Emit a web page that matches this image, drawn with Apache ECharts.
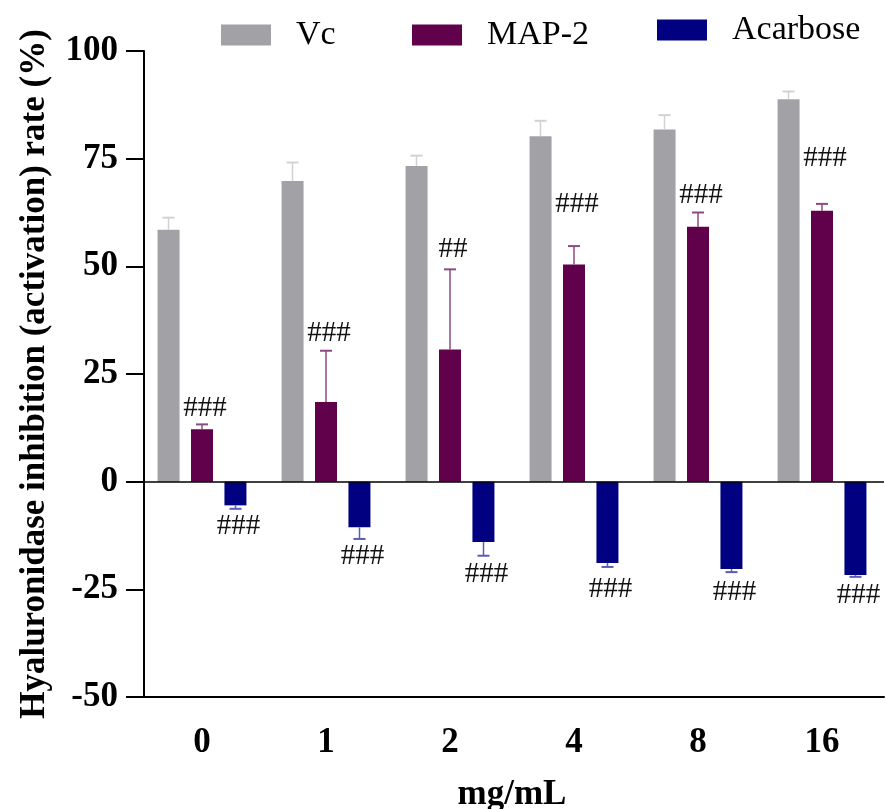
<!DOCTYPE html>
<html>
<head>
<meta charset="utf-8">
<script src="https://cdn.jsdelivr.net/npm/echarts@6/dist/echarts.min.js"></script>
<style>
  html, body { margin: 0; padding: 0; background: #ffffff; }
  #chart { width: 886px; height: 809px; }
</style>
</head>
<body>
<div id="chart"></div>
<script>
// Hyaluronidase inhibition (activation) rate, mean ± SD per dose
const doses = ['0', '1', '2', '4', '8', '16'];
const seriesNames = ['Vc', 'MAP-2', 'Acarbose'];

const vcMean  = [58.5, 69.8, 73.3, 80.2, 81.8, 88.8];
const vcSD    = [2.8, 4.3, 2.4, 3.6, 3.3, 1.8];
const mapMean = [12.2, 18.5, 30.7, 50.4, 59.2, 62.9];
const mapSD   = [1.1, 11.9, 18.6, 4.3, 3.3, 1.6];
const acaMean = [-5.5, -10.6, -14.0, -18.9, -20.3, -21.7];
const acaSD   = [0.8, 2.7, 3.2, 0.9, 0.7, 0.4];

// significance marks and the value level each one sits at
const mapSig      = ['###', '###', '##', '###', '###', '###'];
const mapSigLevel = [17.1, 34.5, 54.0, 64.4, 66.5, 75.1];
const acaSig      = ['###', '###', '###', '###', '###', '###'];
const acaSigLevel = [-10.4, -17.4, -21.6, -25.1, -25.7, -26.5];

const yTicks = [-50, -25, 0, 25, 50, 75, 100];

const SERIF = '"Liberation Serif", "Times New Roman", serif';
const COLORS = ['#A2A1A6', '#61004B', '#000080'];
const ERR_COLORS = ['#D2D2D6', '#8E4A80', '#5A5AB8'];
const BAR_W = 22;
const BAR_STEP = 33.5;   // centre-to-centre distance of bars within a group
const CAP = 6;

const chart = echarts.init(document.getElementById('chart'), null, { renderer: 'canvas' });

function errorBars(means, sds, slot, color) {
  return {
    type: 'custom',
    silent: true,
    z: 4,
    data: means.map((m, i) => [i, m, m >= 0 ? m + sds[i] : m - sds[i]]),
    renderItem: function (params, api) {
      const base = api.coord([api.value(0), api.value(1)]);
      const end = api.coord([api.value(0), api.value(2)]);
      const x = base[0] + slot * BAR_STEP;
      return {
        type: 'group',
        children: [
          { type: 'line', shape: { x1: x, y1: base[1], x2: x, y2: end[1] },
            style: { stroke: color, lineWidth: 1.5 } },
          { type: 'line', shape: { x1: x - CAP, y1: end[1], x2: x + CAP, y2: end[1] },
            style: { stroke: color, lineWidth: 2 } }
        ]
      };
    }
  };
}

function sigMarks(texts, levels, slot) {
  return {
    type: 'custom',
    silent: true,
    z: 5,
    data: levels.map((v, i) => [i, v]),
    renderItem: function (params, api) {
      const p = api.coord([api.value(0), api.value(1)]);
      return {
        type: 'text',
        x: p[0] + slot * BAR_STEP + 3,
        y: p[1],
        style: {
          text: texts[params.dataIndex],
          fill: '#111111',
          font: '29px ' + SERIF,
          align: 'center',
          verticalAlign: 'middle'
        }
      };
    }
  };
}

function legendItem(name, left, top) {
  return {
    data: [name],
    left: left,
    top: top,
    itemWidth: 50,
    itemHeight: 21,
    icon: 'rect',
    selectedMode: false,
    textStyle: { fontFamily: SERIF, fontSize: 34, color: '#000', padding: [0, 0, 0, 20] }
  };
}

const option = {
  animation: false,
  backgroundColor: '#ffffff',
  color: COLORS,
  legend: [
    legendItem('Vc', 216, 13),
    legendItem('MAP-2', 407, 13),
    legendItem('Acarbose', 652, 8)
  ],
  grid: { left: 140, right: 2, top: 51, bottom: 112, containLabel: false, outerBoundsMode: 'none' },
  xAxis: {
    type: 'category',
    data: doses,
    name: 'mg/mL',
    nameLocation: 'middle',
    nameGap: 80,
    nameTextStyle: { fontFamily: SERIF, fontSize: 35, fontWeight: 'bold', color: '#000' },
    axisLine: { onZero: false, lineStyle: { color: '#000', width: 2 } },
    axisTick: { alignWithLabel: true, length: 19, lineStyle: { color: '#000', width: 2 } },
    axisLabel: { fontFamily: SERIF, fontSize: 35, fontWeight: 'bold', color: '#000', margin: 28 },
    splitLine: { show: false }
  },
  yAxis: {
    type: 'value',
    min: yTicks[0],
    max: yTicks[yTicks.length - 1],
    interval: yTicks[1] - yTicks[0],
    offset: -4,
    name: 'Hyaluronidase inhibition (activation) rate (%)',
    nameLocation: 'middle',
    nameGap: 92,
    nameTextStyle: { fontFamily: SERIF, fontSize: 35, fontWeight: 'bold', color: '#000' },
    axisLine: { show: true, lineStyle: { color: '#000', width: 2 } },
    axisTick: { show: true, length: 18, lineStyle: { color: '#000', width: 2 } },
    axisLabel: { fontFamily: SERIF, fontSize: 35, fontWeight: 'bold', color: '#000', margin: 26 },
    splitLine: { show: false }
  },
  series: [
    {
      name: seriesNames[0], type: 'bar', data: vcMean, barWidth: BAR_W, barGap: '52%',
      itemStyle: { color: COLORS[0] },
      markLine: {
        silent: true, symbol: 'none', label: { show: false },
        lineStyle: { color: '#000', width: 1.5, type: 'solid' },
        data: [{ yAxis: 0 }]
      }
    },
    { name: seriesNames[1], type: 'bar', data: mapMean, barWidth: BAR_W, barGap: '52%',
      itemStyle: { color: COLORS[1] } },
    { name: seriesNames[2], type: 'bar', data: acaMean, barWidth: BAR_W, barGap: '52%',
      itemStyle: { color: COLORS[2] } },
    errorBars(vcMean, vcSD, -1, ERR_COLORS[0]),
    errorBars(mapMean, mapSD, 0, ERR_COLORS[1]),
    errorBars(acaMean, acaSD, 1, ERR_COLORS[2]),
    sigMarks(mapSig, mapSigLevel, 0),
    sigMarks(acaSig, acaSigLevel, 1)
  ]
};

chart.setOption(option);
</script>
</body>
</html>
